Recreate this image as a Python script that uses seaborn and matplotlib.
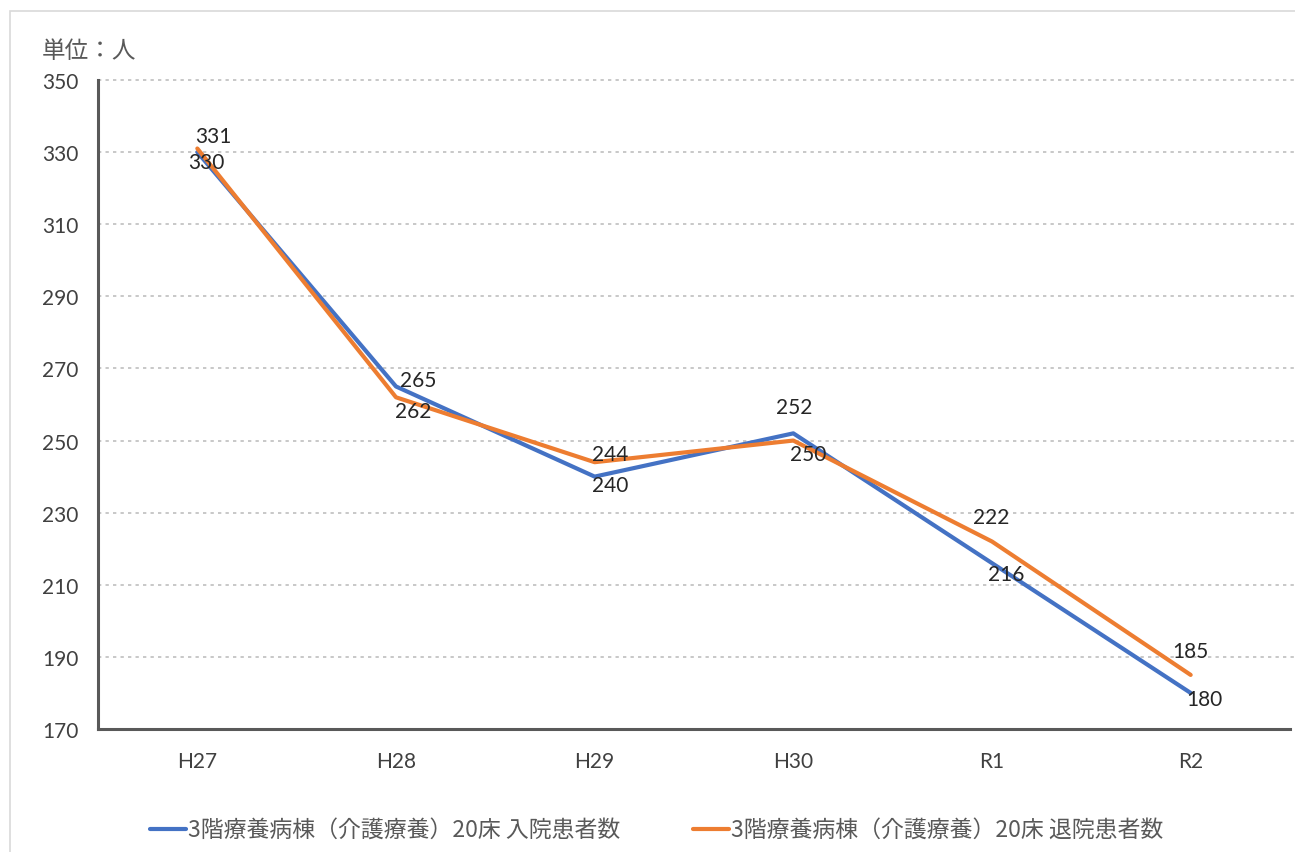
import matplotlib
matplotlib.use("Agg")
import matplotlib.pyplot as plt
import seaborn as sns
import pandas as pd
from matplotlib.patches import Rectangle

# Fiscal years (Heisei 27 .. Reiwa 2)
years = ["H27", "H28", "H29", "H30", "R1", "R2"]
admissions = [330, 265, 240, 252, 216, 180]
discharges = [331, 262, 244, 250, 222, 185]
series_names = ["3階療養病棟（介護療養）20床 入院患者数",
                "3階療養病棟（介護療養）20床 退院患者数"]
y_ticks = [170, 190, 210, 230, 250, 270, 290, 310, 330, 350]
unit_label = "単位：人"

BLUE = "#4472C4"
ORANGE = "#ED7D31"

df = pd.DataFrame({
    "year": years * 2,
    "x": list(range(len(years))) * 2,
    "count": admissions + discharges,
    "series": [series_names[0]] * len(years) + [series_names[1]] * len(years),
})

sns.set_theme(style="white")
plt.rcParams["font.family"] = ["Lato", "Noto Sans CJK JP", "DejaVu Sans"]

fig = plt.figure(figsize=(12.95, 8.53), dpi=100)
fig.patch.set_facecolor("white")

# light frame around the chart area
fig.add_artist(Rectangle((10 / 1295, -0.01), 1.02, 1 - 12 / 853 + 0.01,
                         transform=fig.transFigure, fill=False,
                         edgecolor="#d9d9d9", linewidth=1.2))

ax = fig.add_axes([98 / 1295, 1 - 730 / 853, (1290 - 98) / 1295, (730 - 81) / 853])

sns.lineplot(data=df, x="x", y="count", hue="series",
             palette=[BLUE, ORANGE], linewidth=3, ax=ax, legend=False,
             sort=False, zorder=3)

ax.set_xlim(-0.5, len(years) - 0.5)
ax.set_ylim(170, 350)
ax.set_xticks(range(len(years)))
ax.set_xticklabels(years)
ax.set_yticks(y_ticks)
ax.set_xlabel("")
ax.set_ylabel("")

for t in y_ticks[1:]:
    ax.axhline(t, color="#bfbfbf", linewidth=1.2, linestyle=(0, (2, 2.5)),
               zorder=1, clip_on=False, xmax=1.004)

for side in ["top", "right"]:
    ax.spines[side].set_visible(False)
for side in ["left", "bottom"]:
    ax.spines[side].set_color("#595959")
    ax.spines[side].set_linewidth(2.2)

ax.tick_params(axis="both", length=0, labelsize=15, colors="#404040")
ax.tick_params(axis="y", pad=14)
ax.tick_params(axis="x", pad=16)

# data labels (pixel offsets from each point)
blue_offsets = [(9, -10), (22, 6), (16, -8), (1, 26), (14, -11), (14, -6)]
orange_offsets = [(16, 13), (17, -14), (16, 8), (15, -13), (-1, 25), (0, 24)]
for i, (a, d) in enumerate(zip(admissions, discharges)):
    ax.annotate(str(a), (i, a), xytext=blue_offsets[i], textcoords="offset pixels",
                ha="center", va="center", fontsize=15, color="#262626", zorder=5)
    ax.annotate(str(d), (i, d), xytext=orange_offsets[i], textcoords="offset pixels",
                ha="center", va="center", fontsize=15, color="#262626", zorder=5)

fig.text(42 / 1295, 1 - 52 / 853, unit_label, fontsize=17, color="#595959",
         va="center", ha="left", family=["Noto Sans CJK JP", "DejaVu Sans"])

# legend
for x0, color, name in [(150, BLUE, series_names[0]), (693, ORANGE, series_names[1])]:
    fig.add_artist(plt.Line2D([x0 / 1295, (x0 + 36) / 1295], [1 - 830 / 853] * 2,
                              transform=fig.transFigure, color=color, linewidth=3))
    fig.text((x0 + 38) / 1295, 1 - 830 / 853, name, fontsize=16.5, color="#595959",
             va="center", ha="left", family=["Noto Sans CJK JP", "DejaVu Sans"])

fig.savefig("out.png", dpi=100, facecolor="white")
